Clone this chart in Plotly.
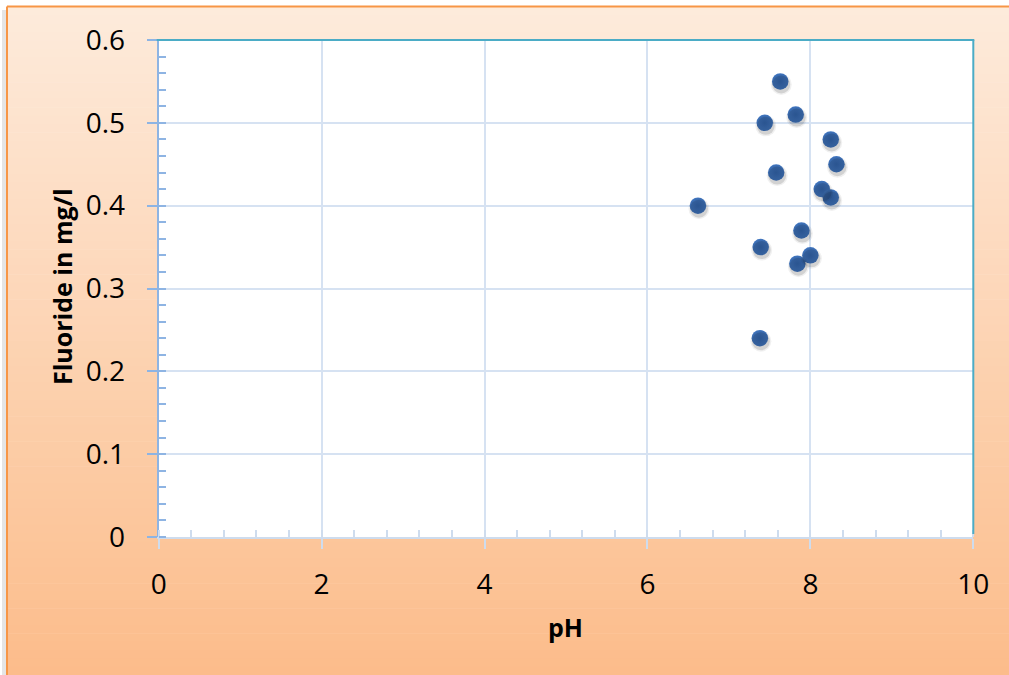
import plotly.graph_objects as go

# pH and fluoride readings of the sampled water sources
ph_values = [6.62, 7.63, 7.82, 7.44, 8.25, 8.32, 7.58, 8.14, 8.25, 7.89, 7.39, 8.00, 7.84, 7.38]
fluoride_mg_l = [0.40, 0.55, 0.51, 0.50, 0.48, 0.45, 0.44, 0.42, 0.41, 0.37, 0.35, 0.34, 0.33, 0.24]

x_ticks = [0, 2, 4, 6, 8, 10]
y_ticks = [0, 0.1, 0.2, 0.3, 0.4, 0.5, 0.6]

W, H = 1009, 675
# plot-area edges in pixels
PX0, PX1 = 158.7, 973.3
PY_TOP, PY_BOT = 40.0, 537.0
X_RANGE = [0, 10]
Y_RANGE = [0, 0.6]

def fx(px):
    return px / W

def fy(py):
    return 1 - py / H

# pixel offset of the drop shadow under each marker
SHADOW_DX, SHADOW_DY = 1.0, 3.0
x_per_px = (X_RANGE[1] - X_RANGE[0]) / (PX1 - PX0)
y_per_px = (Y_RANGE[1] - Y_RANGE[0]) / (PY_BOT - PY_TOP)

fig = go.Figure()

# soft drop shadow drawn on a twin pair of axes shifted by a few pixels
for size, alpha in [(21, 0.06), (18, 0.12)]:
    fig.add_trace(go.Scatter(
        x=ph_values, y=fluoride_mg_l, mode="markers", xaxis="x2", yaxis="y2",
        marker=dict(size=size, color="rgba(0,0,0,%.2f)" % alpha, line=dict(width=0)),
        showlegend=False, hoverinfo="skip",
    ))

fig.add_trace(go.Scatter(
    x=ph_values, y=fluoride_mg_l, mode="markers",
    marker=dict(size=16.5, color="#4277C1",
                gradient=dict(type="radial", color="#3568B0"),
                line=dict(width=0)),
    showlegend=False, hoverinfo="x+y",
))

shapes = []
# vertical peach gradient behind the chart
top_c = (253, 235, 220)
bot_c = (252, 188, 138)
n = 80
y0_px, y1_px = 7.0, 675.0
for i in range(n):
    t = (i + 0.5) / n
    c = tuple(round(a + (b - a) * t) for a, b in zip(top_c, bot_c))
    ya = y0_px + (y1_px - y0_px) * i / n
    yb = min(y0_px + (y1_px - y0_px) * (i + 1) / n + 0.6, y1_px)
    shapes.append(dict(type="rect", xref="paper", yref="paper",
                       x0=fx(7), x1=1, y0=fy(ya), y1=fy(yb),
                       fillcolor="rgb(%d,%d,%d)" % c, line=dict(width=0), layer="below"))
# soft shadow at the left of the frame
shapes.append(dict(type="rect", xref="paper", yref="paper",
                   x0=fx(2), x1=fx(7), y0=fy(10), y1=0,
                   fillcolor="rgba(150,150,150,0.25)", line=dict(width=0), layer="below"))
# chart frame (top and left edges; the rest runs off the canvas)
shapes.append(dict(type="line", xref="paper", yref="paper",
                   x0=fx(7), x1=1, y0=fy(6.5), y1=fy(6.5),
                   line=dict(color="#F79646", width=2), layer="below"))
shapes.append(dict(type="line", xref="paper", yref="paper",
                   x0=fx(7), x1=fx(7), y0=fy(6.5), y1=0,
                   line=dict(color="#F79646", width=2), layer="below"))
# white plot area
shapes.append(dict(type="rect", xref="paper", yref="paper",
                   x0=fx(PX0), x1=fx(PX1), y0=fy(PY_BOT), y1=fy(PY_TOP),
                   fillcolor="white", line=dict(width=0), layer="below"))
# top and right borders of the plot area
shapes.append(dict(type="line", xref="paper", yref="paper",
                   x0=fx(PX0 - 2), x1=fx(PX1 + 1), y0=fy(PY_TOP), y1=fy(PY_TOP),
                   line=dict(color="#4BACC6", width=2), layer="above"))
shapes.append(dict(type="line", xref="paper", yref="paper",
                   x0=fx(PX1), x1=fx(PX1), y0=fy(PY_TOP), y1=fy(PY_BOT - 3),
                   line=dict(color="#4BACC6", width=2), layer="above"))

tick_font = dict(family="Open Sans, Liberation Sans, sans-serif", size=28, color="#000000")
title_font = dict(family="Open Sans, Liberation Sans, sans-serif", size=25, color="#000000")

hidden_axis = dict(visible=False, showgrid=False, zeroline=False, fixedrange=True, automargin=False)

fig.update_layout(
    width=W, height=H, autosize=False,
    margin=dict(l=0, r=0, t=0, b=0, pad=0, autoexpand=False),
    paper_bgcolor="white",
    plot_bgcolor="rgba(0,0,0,0)",
    shapes=shapes,
    xaxis=dict(
        domain=[fx(PX0), fx(PX1)], range=X_RANGE, automargin=False,
        tickvals=x_ticks, ticktext=[str(v) for v in x_ticks],
        showgrid=True, gridcolor="#D6E2F2", gridwidth=1.5,
        showline=True, linecolor="#CEDCEE", linewidth=2,
        ticks="outside", ticklen=10, tickwidth=1.5, tickcolor="#CEDCEE",
        minor=dict(dtick=0.4, tick0=0, ticks="inside", ticklen=7, tickwidth=1.5,
                   tickcolor="#CEDCEE", showgrid=False),
        tickfont=tick_font, ticklabelstandoff=11,
        zeroline=False, fixedrange=True,
    ),
    yaxis=dict(
        domain=[fy(PY_BOT), fy(PY_TOP)], range=Y_RANGE, automargin=False,
        tickvals=y_ticks, ticktext=["0" if v == 0 else "%.1f" % v for v in y_ticks],
        showgrid=True, gridcolor="#D6E2F2", gridwidth=1.5,
        showline=True, linecolor="#8EB4E3", linewidth=2,
        ticks="outside", ticklen=10, tickwidth=1.5, tickcolor="#8EB4E3",
        minor=dict(dtick=0.02, tick0=0, ticks="inside", ticklen=7, tickwidth=1.5,
                   tickcolor="#8EB4E3", showgrid=False),
        tickfont=tick_font, ticklabelstandoff=16,
        zeroline=False, fixedrange=True,
    ),
    xaxis2=dict(hidden_axis, overlaying="x", domain=[fx(PX0), fx(PX1)],
                range=[X_RANGE[0] - SHADOW_DX * x_per_px, X_RANGE[1] - SHADOW_DX * x_per_px]),
    yaxis2=dict(hidden_axis, overlaying="y", domain=[fy(PY_BOT), fy(PY_TOP)],
                range=[Y_RANGE[0] + SHADOW_DY * y_per_px, Y_RANGE[1] + SHADOW_DY * y_per_px]),
    annotations=[
        dict(text="<b>pH</b>", xref="paper", yref="paper", x=fx(565), y=fy(627),
             showarrow=False, xanchor="center", yanchor="middle", font=title_font),
        dict(text="<b>Fluoride in mg/l</b>", xref="paper", yref="paper", x=fx(62), y=fy(287),
             showarrow=False, xanchor="center", yanchor="middle", textangle=-90,
             font=title_font),
    ],
)

fig.write_html("out.html")
